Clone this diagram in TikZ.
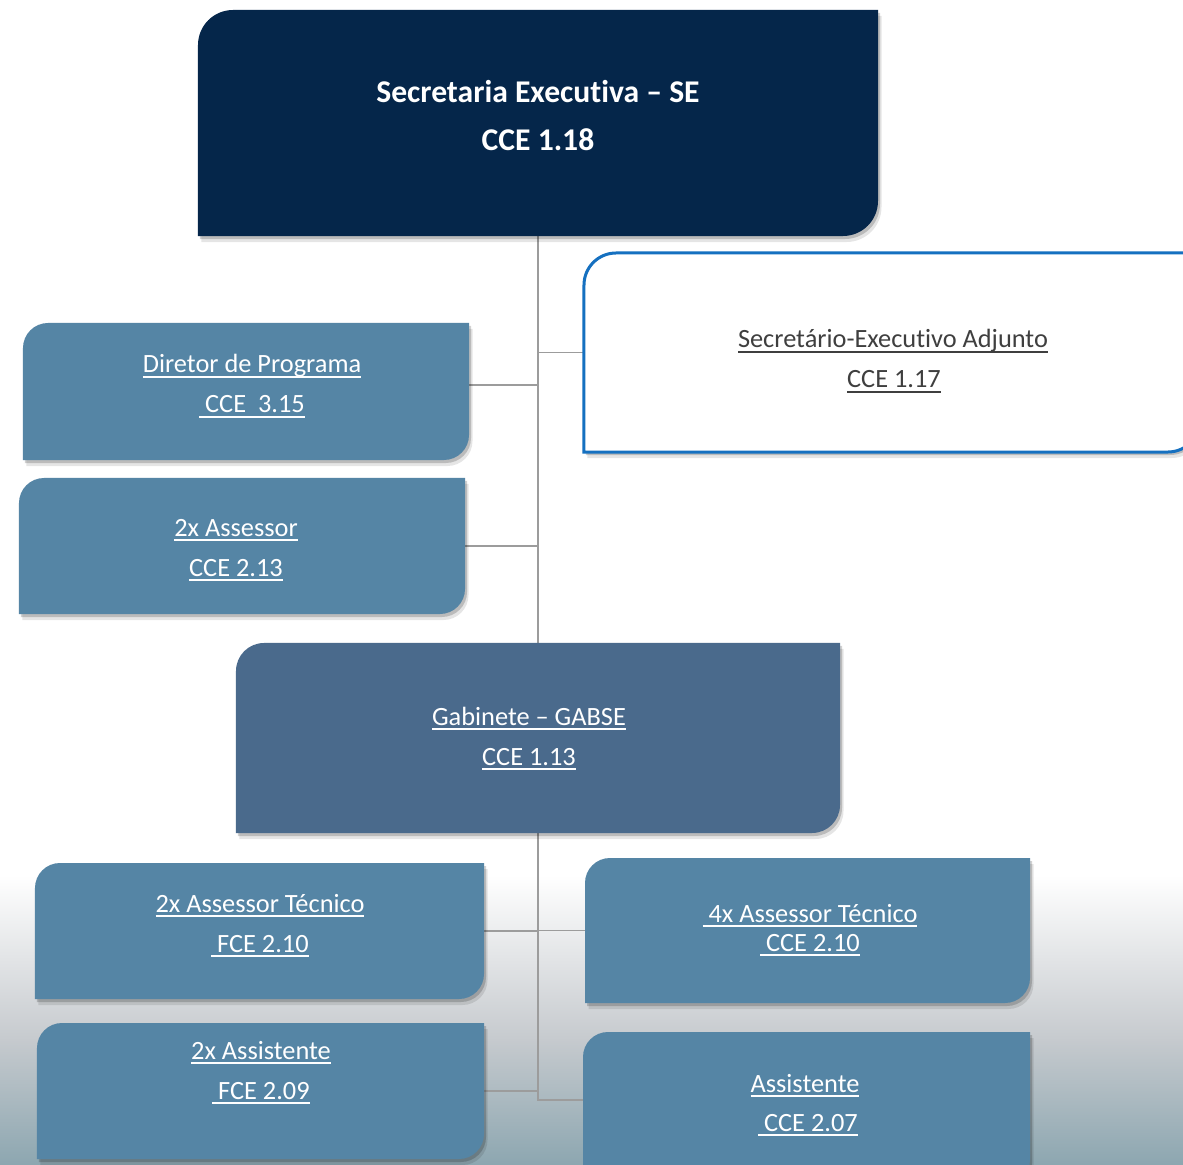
\documentclass[tikz,border=0pt]{standalone}
\usepackage{fontspec}
\setmainfont{Carlito}[Ligatures=NoCommon]
\usetikzlibrary{calc}
\definecolor{navy}{HTML}{05264A}
\definecolor{steel}{HTML}{5585A5}
\definecolor{gabc}{HTML}{4A6A8C}
\definecolor{bluebd}{HTML}{1570C0}
\definecolor{darktxt}{HTML}{3F3F3F}
\definecolor{linec}{HTML}{9C9C9C}
\definecolor{bgmid}{HTML}{C6CACE}
\definecolor{bgbot}{HTML}{8CA6B0}
\newcommand\orgfill[3]{%
  \fill[#1] (#2.south west) -- ([yshift=-#3]#2.north west)
    arc[start angle=180,end angle=90,radius=#3] -- (#2.north east)
    -- ([yshift=#3]#2.south east)
    arc[start angle=0,end angle=-90,radius=#3] -- cycle;}
\begin{document}
\begin{tikzpicture}[x=0.2mm,y=-0.2mm,
  boxnode/.style={rectangle,inner sep=0pt,outer sep=0pt,minimum width=#1},
  shad/.style={preaction={fill=black,opacity=0.10,transform canvas={xshift=0.7mm,yshift=-1.2mm}},
               preaction={fill=black,opacity=0.18,transform canvas={xshift=0.4mm,yshift=-0.6mm}}},
  conn/.style={draw=linec,line width=0.28mm},
  lbl/.style={anchor=base,inner sep=0pt,outer sep=0pt,text=white,font=\fontsize{15}{18}\selectfont},
  lbld/.style={lbl,text=darktxt},
  lblb/.style={anchor=base,inner sep=0pt,text=white,font=\fontsize{18}{22}\selectfont\bfseries},
  uln/.style={line width=0.8pt}]
\useasboundingbox (0,0) rectangle (1183,1165);
\fill[white] (0,0) rectangle (1183,1165);
\shade[top color=white,bottom color=bgmid] (0,875) rectangle (1183,1040);
\shade[top color=bgmid,bottom color=bgbot] (0,1039) rectangle (1183,1166);
% boxes
\node[boxnode=136mm,minimum height=45.2mm] (se) at (538,123) {};
\node[boxnode=123.2mm,minimum height=39.8mm] (sea) at (892,352.5) {};
\node[boxnode=89.2mm,minimum height=27.4mm] (dir) at (246,391.5) {};
\node[boxnode=89.2mm,minimum height=27.2mm] (ass) at (242,546) {};
\node[boxnode=120.8mm,minimum height=38mm] (gab) at (538,738) {};
\node[boxnode=89.8mm,minimum height=27.2mm] (at2) at (259.5,931) {};
\node[boxnode=89mm,minimum height=29mm] (at4) at (807.5,930.5) {};
\node[boxnode=89.4mm,minimum height=27.2mm] (as2) at (260.5,1091) {};
\node[boxnode=89.4mm,minimum height=30.6mm] (as1) at (806.5,1108.5) {};
\coordinate (tb) at (538,1100);
% connectors
\draw[conn] (se.south) -- (gab.north);
\draw[conn] (gab.south) -- (tb) -- (tb -| as1.west);
\draw[conn] (se.south |- sea.west) -- (sea.west);
\draw[conn] ($(dir.east)+(0,-6.5)$) -- ($(se.south |- dir.east)+(0,-6.5)$);
\draw[conn] (ass.east) -- (se.south |- ass.east);
\draw[conn] (at2.east) -- (gab.south |- at2.east);
\draw[conn] (gab.south |- at4.west) -- (at4.west);
\draw[conn] (as2.east) -- (gab.south |- as2.east);
% shapes
\orgfill{navy,shad}{se}{7mm}
\orgfill{steel,shad}{dir}{5mm}
\orgfill{steel,shad}{ass}{5mm}
\orgfill{gabc,shad}{gab}{5.6mm}
\orgfill{steel,shad}{at2}{5mm}
\orgfill{steel,shad}{at4}{5mm}
\orgfill{steel,shad}{as2}{5mm}
\orgfill{steel,shad}{as1}{5mm}
\draw[fill=white,draw=bluebd,line width=0.6mm,shad] (sea.south west) -- ([yshift=-6.4mm]sea.north west)
    arc[start angle=180,end angle=90,radius=6.4mm] -- (sea.north east)
    -- ([yshift=6.4mm]sea.south east)
    arc[start angle=0,end angle=-90,radius=6.4mm] -- cycle;
% texts
\node[lblb] (se1) at (538,103) {Secretaria Executiva – SE};
\node[lblb] (se2) at (538,151) {CCE 1.18};
\node[lbld] (sea1) at (893,348) {Secretário-Executivo Adjunto};
\node[lbld] (sea2) at (894,388) {CCE 1.17};
\node[lbl] (dir1) at (252,373) {Diretor de Programa};
\node[lbl] (dir2) at (252,413) {~CCE~~3.15};
\node[lbl] (ass1) at (236,536) {2x Assessor};
\node[lbl] (ass2) at (236,576) {CCE 2.13};
\node[lbl] (gab1) at (529,725) {Gabinete – GABSE};
\node[lbl] (gab2) at (529,765) {CCE 1.13};
\node[lbl] (at21) at (260,912) {2x Assessor Técnico};
\node[lbl] (at22) at (260,952) {~FCE 2.10};
\node[lbl] (at41) at (810,922) {~4x Assessor Técnico};
\node[lbl] (at42) at (810,951) {~CCE 2.10};
\node[lbl] (as21) at (261,1059) {2x Assistente};
\node[lbl] (as22) at (261,1099) {~FCE 2.09};
\node[lbl] (as11) at (805,1092) {Assistente};
\node[lbl] (as12) at (808,1131) {~CCE 2.07};
% underlines
\foreach \n in {sea1,sea2}
  \draw[uln,darktxt] ([yshift=-2.3pt]\n.base west) -- ([yshift=-2.3pt]\n.base east);
\foreach \n in {dir1,dir2,ass1,ass2,gab1,gab2,at21,at22,at41,at42,as21,as22,as11,as12}
  \draw[uln,white] ([yshift=-2.3pt]\n.base west) -- ([yshift=-2.3pt]\n.base east);
\end{tikzpicture}
\end{document}
